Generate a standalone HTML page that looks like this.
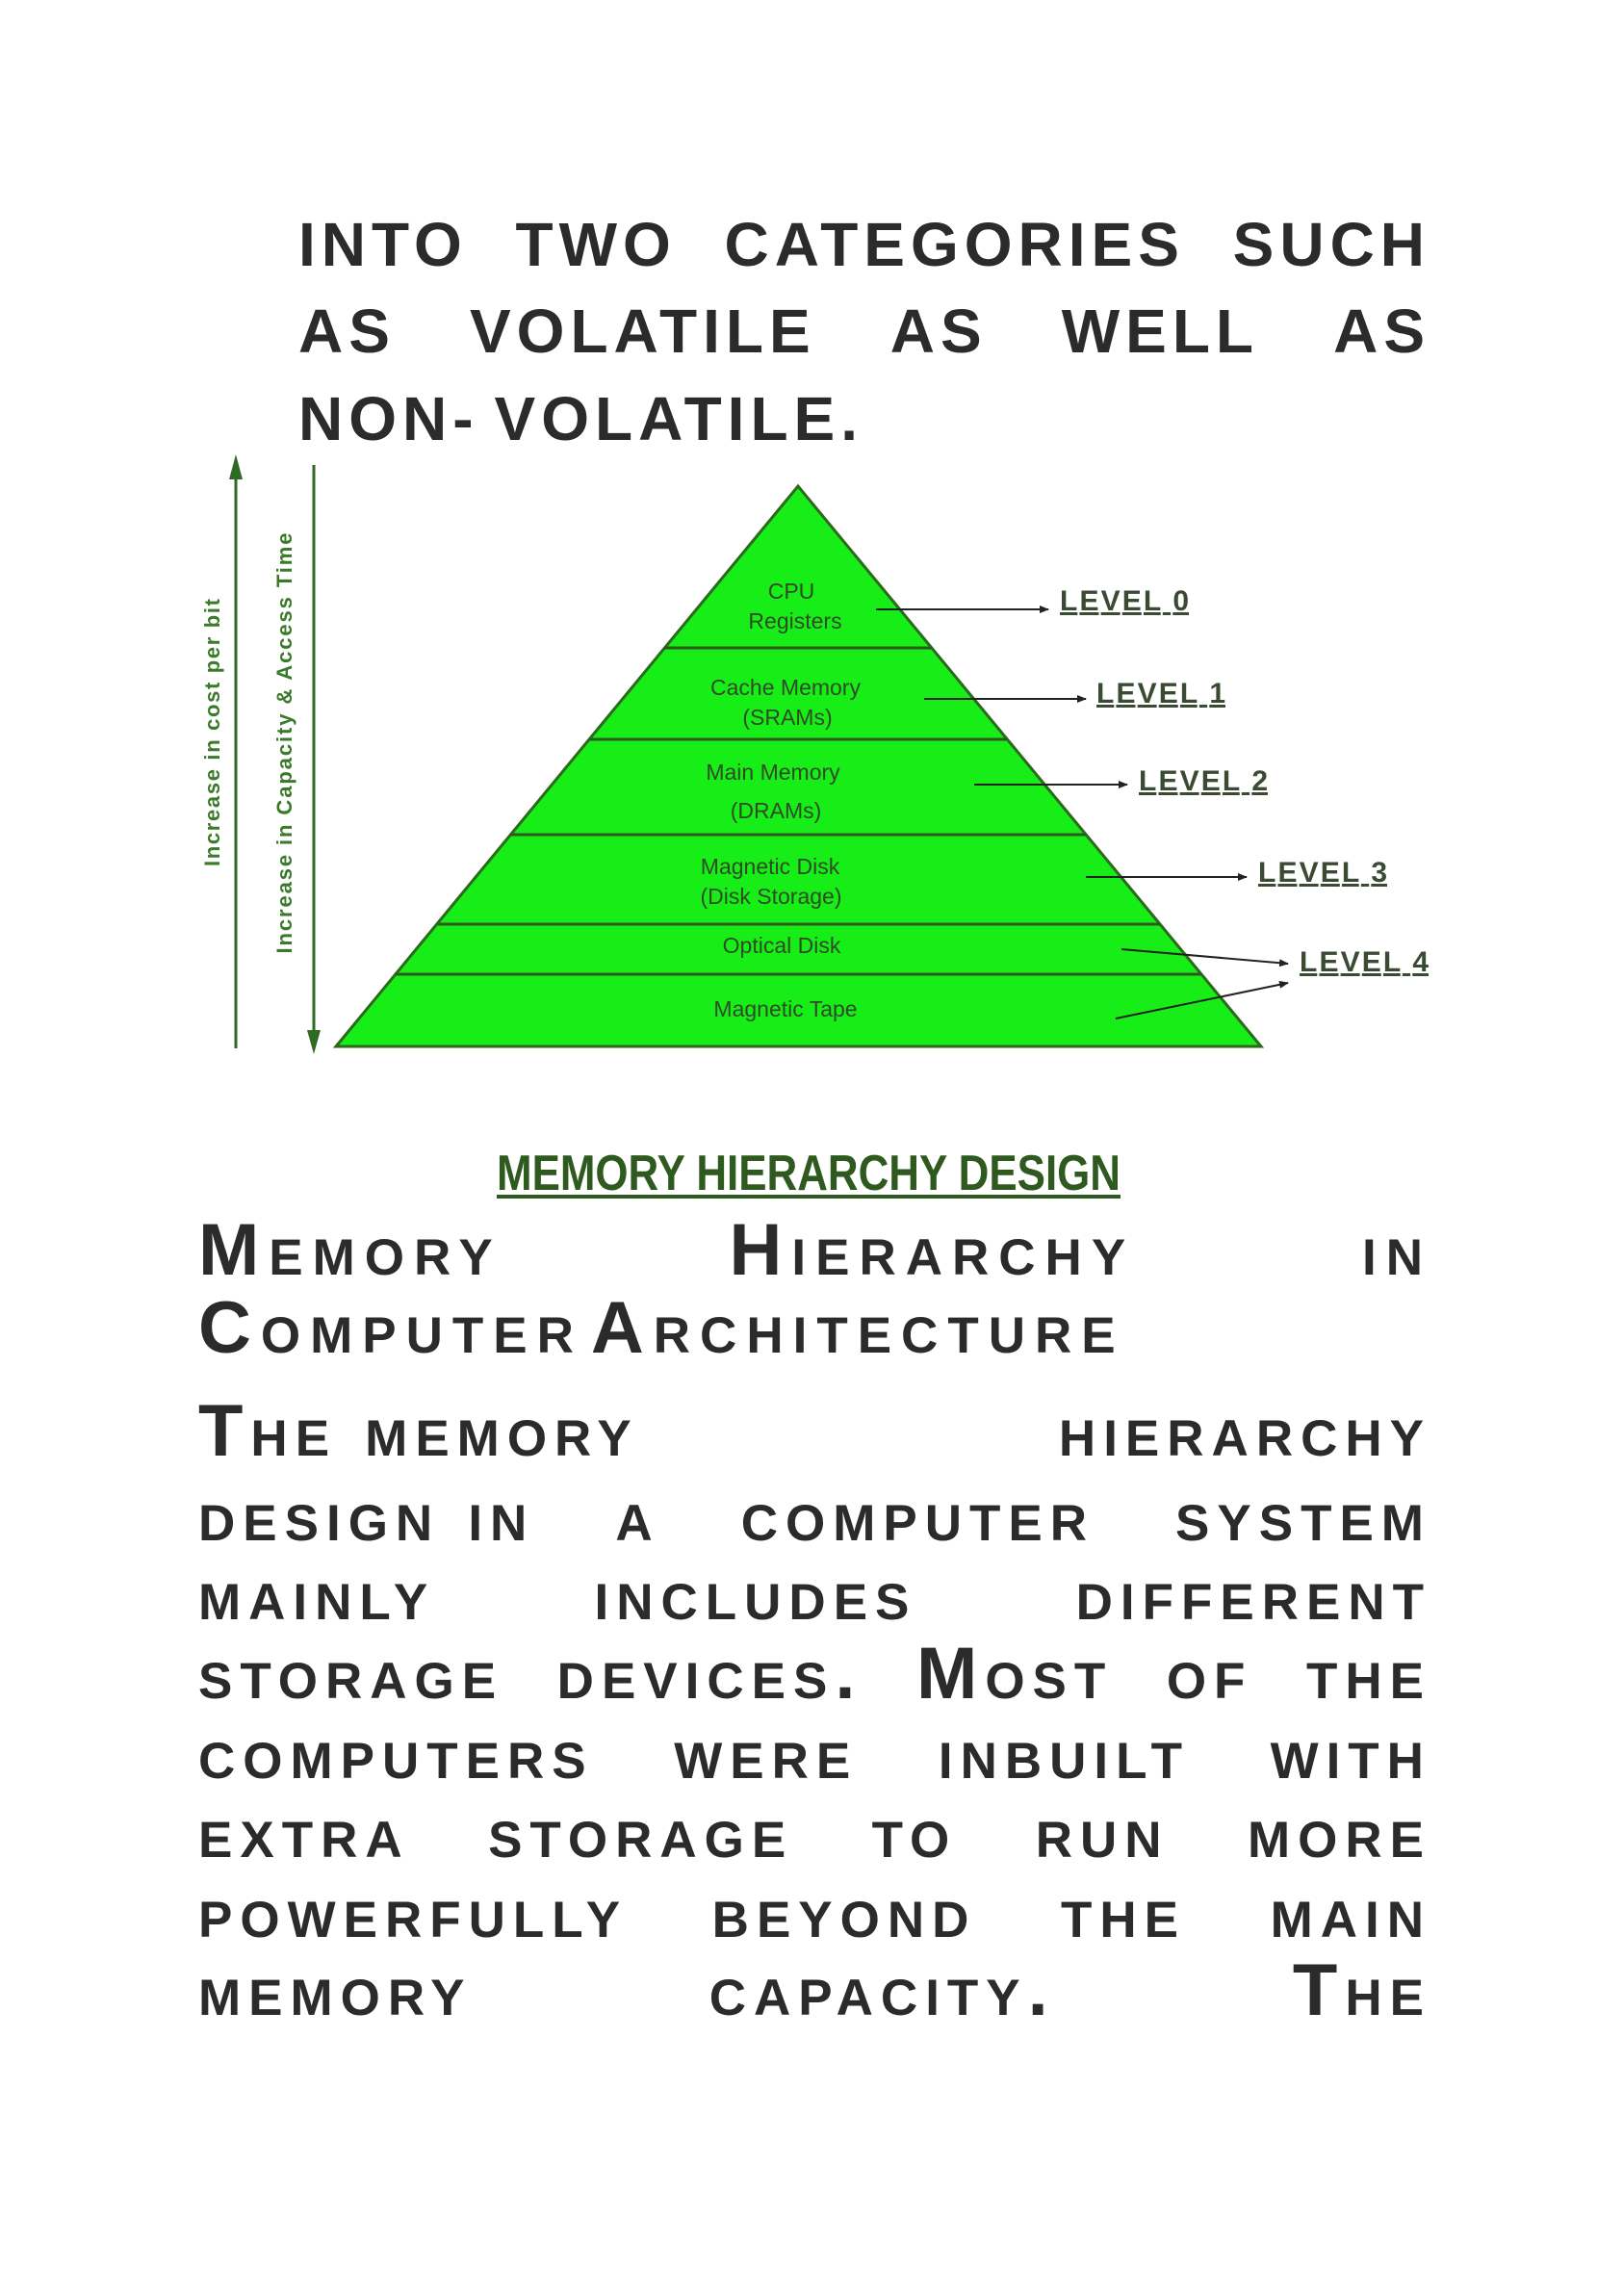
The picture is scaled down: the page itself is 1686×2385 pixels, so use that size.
<!DOCTYPE html>
<html><head><meta charset="utf-8"><style>
html,body{margin:0;padding:0;background:#fff}
body{width:1686px;height:2385px;position:relative;overflow:hidden;font-family:"Liberation Sans",sans-serif;color:#2b2b2b}
.l{position:absolute;display:flex;justify-content:space-between;align-items:baseline;line-height:1;font-weight:bold;white-space:nowrap}
.h1{font-size:64px;left:310px;width:1176px;letter-spacing:6px}
.sc{font-variant:small-caps}
.h2{font-size:76px;left:206px;width:1282px;letter-spacing:10px}
.p{font-size:76px;left:206px;width:1281px;letter-spacing:8px}
</style></head><body>
<div class="l h1" style="top:222px"><span>INTO</span><span>TWO</span><span>CATEGORIES</span><span>SUCH</span></div>
<div class="l h1" style="top:312px"><span>AS</span><span>VOLATILE</span><span>AS</span><span>WELL</span><span>AS</span></div>
<div class="l h1" style="top:403px;justify-content:flex-start;gap:16px"><span>NON-</span><span>VOLATILE.</span></div>

<svg style="position:absolute;left:0;top:0" width="1686" height="1300">
<defs><marker id="a" markerWidth="10" markerHeight="8" refX="9" refY="4" orient="auto" markerUnits="userSpaceOnUse"><path d="M0,0 L10,4 L0,8 z" fill="#222"/></marker></defs>
<polygon points="829,505 349,1087 1310,1087" fill="#17ee17" stroke="#2b6a1c" stroke-width="3"/>
<g stroke="#2b5a1c" stroke-width="3">
<line x1="690" y1="673" x2="968" y2="673"/>
<line x1="612" y1="768" x2="1046" y2="768"/>
<line x1="530" y1="867" x2="1128" y2="867"/>
<line x1="454" y1="960" x2="1205" y2="960"/>
<line x1="411" y1="1012" x2="1248" y2="1012"/>
</g>
<g stroke="#2f6a22" stroke-width="3">
<line x1="245" y1="490" x2="245" y2="1089"/>
<line x1="326" y1="483" x2="326" y2="1080"/>
</g>
<polygon points="245,472 238,498 252,498" fill="#2f6a22"/>
<polygon points="326,1095 319,1070 333,1070" fill="#2f6a22"/>
<text transform="translate(228,761) rotate(-90)" text-anchor="middle" font-size="22" font-weight="bold" fill="#3b7a2b" font-family="Liberation Sans" textLength="278">Increase in cost per bit</text>
<text transform="translate(303,772) rotate(-90)" text-anchor="middle" font-size="22" font-weight="bold" fill="#3b7a2b" font-family="Liberation Sans" textLength="437">Increase in Capacity &amp; Access Time</text>
<g font-family="Liberation Sans" font-size="23" fill="#2f4a25" text-anchor="middle">
<text x="822" y="622">CPU</text><text x="826" y="653">Registers</text>
<text x="816" y="722">Cache Memory</text><text x="818" y="753">(SRAMs)</text>
<text x="803" y="810">Main Memory</text><text x="806" y="850">(DRAMs)</text>
<text x="800" y="908">Magnetic Disk</text><text x="801" y="939">(Disk Storage)</text>
<text x="812" y="990">Optical Disk</text>
<text x="816" y="1056">Magnetic Tape</text>
</g>
<g stroke="#222" stroke-width="2" marker-end="url(#a)">
<line x1="910" y1="633" x2="1089" y2="633"/>
<line x1="960" y1="726" x2="1128" y2="726"/>
<line x1="1012" y1="815" x2="1171" y2="815"/>
<line x1="1128" y1="911" x2="1295" y2="911"/>
<line x1="1165" y1="986" x2="1338" y2="1001"/>
<line x1="1159" y1="1058" x2="1338" y2="1021"/>
</g>
<g font-family="Liberation Sans" font-size="30" font-weight="bold" fill="#3a4a33" text-decoration="underline">
<text x="1101" y="634" textLength="134">LEVEL 0</text>
<text x="1139" y="730" textLength="134">LEVEL 1</text>
<text x="1183" y="821" textLength="134">LEVEL 2</text>
<text x="1307" y="916" textLength="134">LEVEL 3</text>
<text x="1350" y="1009" textLength="134">LEVEL 4</text>
</g>
<text x="516" y="1236" font-family="Liberation Sans" font-size="52" font-weight="bold" fill="#2f5a1f" textLength="648" lengthAdjust="spacingAndGlyphs">MEMORY HIERARCHY DESIGN</text>
<line x1="516" y1="1243" x2="1164" y2="1243" stroke="#2f5a1f" stroke-width="4"/>
</svg>

<div class="l h2 sc" style="top:1261px"><span>Memory</span><span>Hierarchy</span><span>in</span></div>
<div class="l h2 sc" style="top:1342px;justify-content:flex-start;gap:8px"><span>Computer</span><span>Architecture</span></div>

<div class="l p sc" style="top:1449px"><span>The <span>memory</span></span><span>hierarchy</span></div>
<div class="l p sc" style="top:1537px"><span>design in</span><span>a</span><span>computer</span><span>system</span></div>
<div class="l p sc" style="top:1619px"><span>mainly</span><span>includes</span><span>different</span></div>
<div class="l p sc" style="top:1701px"><span>storage</span><span>devices.</span><span>Most</span><span>of</span><span>the</span></div>
<div class="l p sc" style="top:1784px"><span>computers</span><span>were</span><span>inbuilt</span><span>with</span></div>
<div class="l p sc" style="top:1866px"><span>extra</span><span>storage</span><span>to</span><span>run</span><span>more</span></div>
<div class="l p sc" style="top:1949px"><span>powerfully</span><span>beyond</span><span>the</span><span>main</span></div>
<div class="l p sc" style="top:2030px"><span>memory</span><span>capacity.</span><span>The</span></div>
</body></html>
